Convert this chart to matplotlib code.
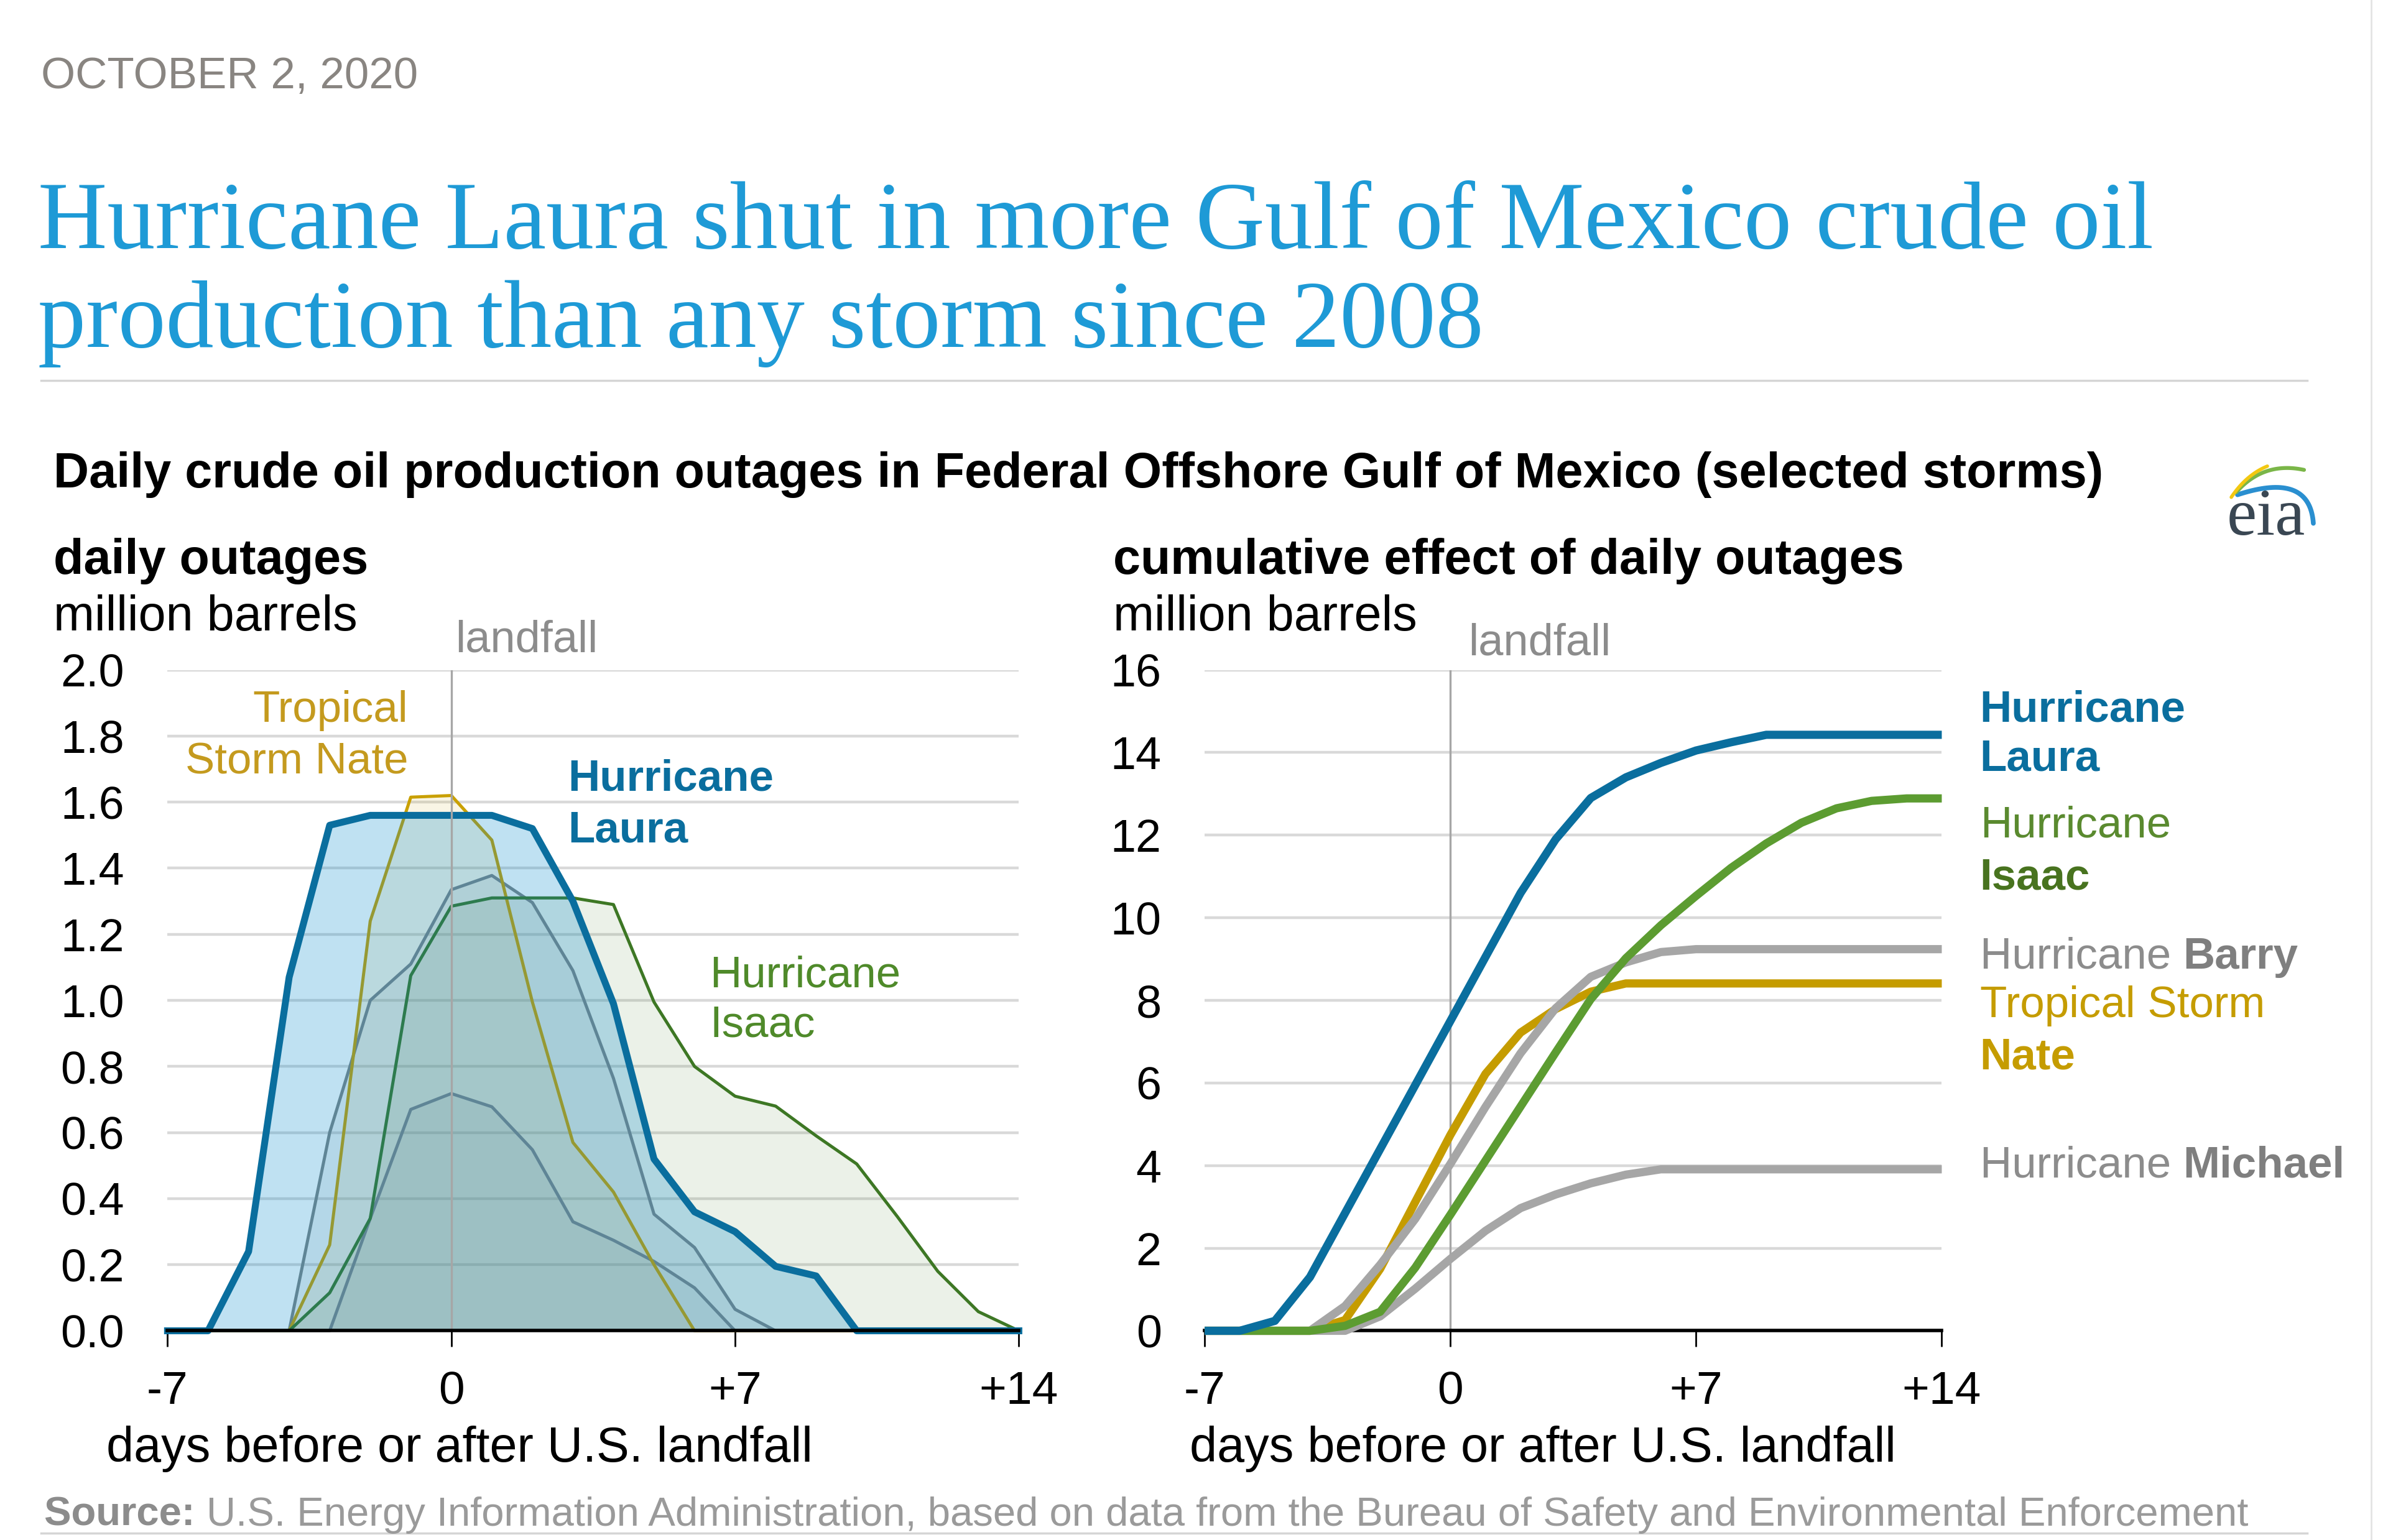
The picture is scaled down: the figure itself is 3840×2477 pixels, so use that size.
import numpy as np
import matplotlib
matplotlib.use("Agg")
import matplotlib.pyplot as plt

plt.rcParams['font.family'] = ['Liberation Sans', 'DejaVu Sans']

# days before / after U.S. landfall
days = list(range(-7, 15))
day_ticks = [-7, 0, 7, 14]
day_tick_labels = ['-7', '0', '+7', '+14']

# daily outages, million barrels (left panel)
laura_daily = [0, 0, 0.24, 1.07, 1.53, 1.56, 1.56, 1.56, 1.56, 1.52, 1.30,
               0.99, 0.52, 0.36, 0.30, 0.195, 0.166, 0, 0, 0, 0, 0]
isaac_daily = [0, 0, 0, 0, 0.115, 0.34, 1.075, 1.285, 1.31, 1.31, 1.31,
               1.29, 0.995, 0.80, 0.71, 0.68, 0.59, 0.505, 0.346, 0.18, 0.058, 0]
nate_daily = [0, 0, 0, 0, 0.26, 1.24, 1.615, 1.62, 1.485, 0.995, 0.57,
              0.42, 0.20, 0, 0, 0, 0, 0, 0, 0, 0, 0]
barry_daily = [0, 0, 0, 0, 0.60, 1.0, 1.11, 1.335, 1.378, 1.296, 1.09,
               0.764, 0.353, 0.252, 0.065, 0, 0, 0, 0, 0, 0, 0]
michael_daily = [0, 0, 0, 0, 0, 0.34, 0.67, 0.718, 0.678, 0.548, 0.33,
                 0.274, 0.21, 0.13, 0, 0, 0, 0, 0, 0, 0, 0]

# cumulative effect, million barrels (right panel)
laura_cum = [0, 0, 0.24, 1.3, 2.85, 4.4, 5.95, 7.5, 9.05, 10.6, 11.9,
             12.9, 13.4, 13.75, 14.05, 14.25, 14.43, 14.43, 14.43, 14.43, 14.43, 14.43]
isaac_cum = [0, 0, 0, 0, 0.12, 0.46, 1.53, 2.81, 4.12, 5.43, 6.74,
             8.03, 9.02, 9.82, 10.53, 11.21, 11.8, 12.3, 12.65, 12.83, 12.89, 12.89]
nate_cum = [0, 0, 0, 0, 0.26, 1.5, 3.12, 4.74, 6.22, 7.22, 7.79,
            8.21, 8.41, 8.41, 8.41, 8.41, 8.41, 8.41, 8.41, 8.41, 8.41, 8.41]
barry_cum = [0, 0, 0, 0, 0.6, 1.6, 2.71, 4.04, 5.42, 6.72, 7.81,
             8.57, 8.92, 9.17, 9.24, 9.24, 9.24, 9.24, 9.24, 9.24, 9.24, 9.24]
michael_cum = [0, 0, 0, 0, 0, 0.35, 1.02, 1.74, 2.42, 2.97, 3.3,
               3.57, 3.78, 3.91, 3.91, 3.91, 3.91, 3.91, 3.91, 3.91, 3.91, 3.91]

left_yticks = [0.0, 0.2, 0.4, 0.6, 0.8, 1.0, 1.2, 1.4, 1.6, 1.8, 2.0]
left_ylabels = ['%.1f' % v for v in left_yticks]
right_yticks = [0, 2, 4, 6, 8, 10, 12, 14, 16]

LAURA = '#0a6e9e'
LAURA_FILL = '#0088cc'
ISAAC_L = '#3d7724'
ISAAC_R = '#5c9c31'
NATE = '#c9a000'
NATE_R = '#c59c00'
GRAY_L = '#7f8585'
GRAY_R = '#a6a6a6'
GRID = '#d9d9d9'
TXT_GRAY = '#8c8c8c'

# layout grid of the reference (shrunk copy)
W, H = 1568, 1011.4


def fx(x):
    return x / W


def fy(y):
    return 1 - y / H


fig = plt.figure(figsize=(38.4, 24.77), dpi=100)
renderer = fig.canvas.get_renderer()


def text_runs(x, y, runs, size):
    x = fx(x)
    for s, weight, color in runs:
        t = fig.text(x, fy(y), s, fontsize=size, fontweight=weight, color=color, va='baseline')
        x = t.get_window_extent(renderer).x1 / fig.bbox.width


def style_axis(ax, yticks, ylabels, ymax):
    ax.set_xlim(-7, 14)
    ax.set_ylim(0, ymax)
    for s in ['top', 'right', 'left']:
        ax.spines[s].set_visible(False)
    ax.spines['bottom'].set_color('black')
    ax.spines['bottom'].set_linewidth(4)
    ax.set_yticks(yticks)
    ax.set_yticklabels(ylabels)
    ax.tick_params(axis='y', length=0, pad=50, labelsize=53)
    ax.set_xticks(day_ticks)
    ax.set_xticklabels(day_tick_labels)
    ax.tick_params(axis='x', length=19, width=2, pad=27, labelsize=54)
    ax.yaxis.grid(True, color=GRID, lw=3.2)
    ax.set_axisbelow(True)
    ax.patch.set_visible(False)


# ---- left panel: daily outages ----
ax1 = fig.add_axes([fx(110), fy(874), fx(669) - fx(110), fy(440) - fy(874)])
style_axis(ax1, left_yticks, left_ylabels, 2.0)
for vals, col in [(isaac_daily, ISAAC_L), (nate_daily, NATE), (barry_daily, GRAY_L), (michael_daily, GRAY_L)]:
    ax1.fill_between(days, vals, color=col, alpha=0.1, lw=0, zorder=1)
for vals, col in [(barry_daily, GRAY_L), (michael_daily, GRAY_L), (nate_daily, NATE), (isaac_daily, ISAAC_L)]:
    ax1.plot(days, vals, color=col, lw=3.6, zorder=2, solid_joinstyle='round', clip_on=False)
ax1.fill_between(days, laura_daily, color=LAURA_FILL, alpha=0.25, lw=0, zorder=3)
ax1.plot(days, laura_daily, color=LAURA, lw=8, zorder=4, solid_joinstyle='round', clip_on=False)
ax1.axvline(0, color='#a6a6a6', lw=2.4, zorder=5)
ax1.spines['bottom'].set_zorder(6)

# ---- right panel: cumulative effect ----
ax2 = fig.add_axes([fx(791), fy(874), fx(1275) - fx(791), fy(440) - fy(874)])
style_axis(ax2, right_yticks, [str(v) for v in right_yticks], 16)
ax2.axvline(0, color='#a6a6a6', lw=2.4, zorder=1)
ax2.spines['bottom'].set_zorder(1.5)
for vals, col in [(nate_cum, NATE_R), (michael_cum, GRAY_R), (barry_cum, GRAY_R),
                  (isaac_cum, ISAAC_R), (laura_cum, LAURA)]:
    ax2.plot(days, vals, color=col, lw=9.5, zorder=3, solid_joinstyle='round',
             solid_capstyle='butt', clip_on=False)

# ---- header ----
fig.text(fx(27), fy(58), 'OCTOBER 2, 2020', fontsize=51, color='#898581', va='baseline')
fig.text(fx(25), fy(163), 'Hurricane Laura shut in more Gulf of Mexico crude oil',
         family='Liberation Serif', fontsize=111, color='#1e9ad6', va='baseline')
fig.text(fx(25), fy(228), 'production than any storm since 2008',
         family='Liberation Serif', fontsize=111, color='#1e9ad6', va='baseline')
fig.add_artist(plt.Line2D([fx(27), fx(1515)], [fy(250), fy(250)], color='#d5d5d5', lw=2.5))
fig.text(fx(35), fy(320), 'Daily crude oil production outages in Federal Offshore Gulf of Mexico (selected storms)',
         fontsize=57, fontweight='bold', color='black', va='baseline')

# eia logo
lax = fig.add_axes([fx(1450), fy(360), fx(80), 62 / H])
lax.set_xlim(3551, 3747)
lax.set_ylim(882, 730)
lax.axis('off')
tt = np.linspace(0, 1, 40)
for p0, p1, p2, col, lw in [((3720, 842), (3714, 758), (3598, 796), '#2a8fd0', 5.5),
                            ((3705, 756), (3640, 742), (3596, 792), '#7ab648', 4.5),
                            ((3646, 750), (3612, 764), (3588, 800), '#f2c811', 4)]:
    bx = (1 - tt) ** 2 * p0[0] + 2 * (1 - tt) * tt * p1[0] + tt ** 2 * p2[0]
    by = (1 - tt) ** 2 * p0[1] + 2 * (1 - tt) * tt * p1[1] + tt ** 2 * p2[1]
    lax.plot(bx, by, color=col, lw=lw, solid_capstyle='round')
lax.text(3644, 860, 'eia', family='Liberation Serif', fontsize=78, color='#3a4753',
         ha='center', va='baseline')

# panel headers
fig.text(fx(35), fy(377), 'daily outages', fontsize=57, fontweight='bold', va='baseline')
fig.text(fx(35), fy(414), 'million barrels', fontsize=57, va='baseline')
fig.text(fx(731), fy(377), 'cumulative effect of daily outages', fontsize=57, fontweight='bold', va='baseline')
fig.text(fx(731), fy(414), 'million barrels', fontsize=57, va='baseline')
fig.text(fx(299), fy(428), 'landfall', fontsize=52, color=TXT_GRAY, va='baseline')
fig.text(fx(964), fy(430), 'landfall', fontsize=52, color=TXT_GRAY, va='baseline')

# left panel labels
fig.text(fx(268), fy(474), 'Tropical', fontsize=51, color='#c49a1e', ha='right', va='baseline')
fig.text(fx(268), fy(508), 'Storm Nate', fontsize=51, color='#c49a1e', ha='right', va='baseline')
fig.text(fx(373), fy(519), 'Hurricane', fontsize=51, fontweight='bold', color=LAURA, va='baseline')
fig.text(fx(373), fy(553), 'Laura', fontsize=51, fontweight='bold', color=LAURA, va='baseline')
fig.text(fx(466), fy(648), 'Hurricane', fontsize=51, color='#4f8a2a', va='baseline')
fig.text(fx(466), fy(681), 'Isaac', fontsize=51, color='#4f8a2a', va='baseline')

# right panel labels
text_runs(1300, 474, [('Hurricane', 'bold', LAURA)], 51)
text_runs(1300, 506, [('Laura', 'bold', LAURA)], 51)
text_runs(1300, 550, [('Hurricane', 'normal', '#5a8a2f')], 51)
text_runs(1300, 584, [('Isaac', 'bold', '#48731f')], 51)
text_runs(1300, 636, [('Hurricane ', 'normal', TXT_GRAY), ('Barry', 'bold', '#7f7f7f')], 51)
text_runs(1300, 668, [('Tropical Storm', 'normal', NATE_R)], 51)
text_runs(1300, 702, [('Nate', 'bold', NATE_R)], 51)
text_runs(1300, 773, [('Hurricane ', 'normal', TXT_GRAY), ('Michael', 'bold', '#7f7f7f')], 51)

# axis titles
fig.text(fx(70), fy(960), 'days before or after U.S. landfall', fontsize=57, va='baseline')
fig.text(fx(781), fy(960), 'days before or after U.S. landfall', fontsize=57, va='baseline')

# source
text_runs(29, 1002, [('Source: ', 'bold', '#8c8c8c'),
                     ('U.S. Energy Information Administration, based on data from the Bureau of '
                      'Safety and Environmental Enforcement', 'normal', '#9a9a9a')], 47)
fig.add_artist(plt.Line2D([fx(27), fx(1515)], [fy(1007), fy(1007)], color='#d5d5d5', lw=2.5))
fig.add_artist(plt.Line2D([fx(1557), fx(1557)], [0, 1], color='#e3e3e3', lw=2))

fig.savefig('out.png', dpi=100, facecolor='white')
